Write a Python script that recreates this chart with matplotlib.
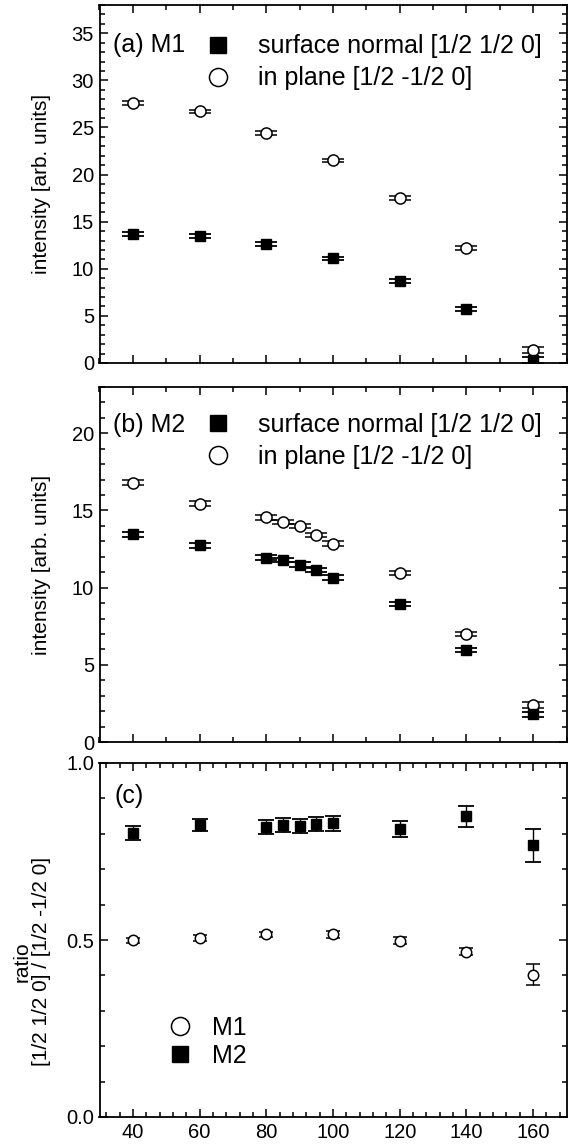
import numpy as np
import matplotlib
matplotlib.use('Agg')
import matplotlib.pyplot as plt
from matplotlib.ticker import MultipleLocator
from matplotlib.lines import Line2D

plt.rcParams['font.family'] = ['Liberation Sans', 'DejaVu Sans']

# (a) M1
x_m1 = [40, 60, 80, 100, 120, 140, 160]
m1_normal = [13.7, 13.5, 12.6, 11.1, 8.7, 5.7, 0.35]
m1_normal_err = [0.2, 0.2, 0.2, 0.2, 0.2, 0.2, 0.3]
m1_plane = [27.6, 26.7, 24.4, 21.5, 17.5, 12.2, 1.4]
m1_plane_err = [0.2, 0.2, 0.2, 0.2, 0.2, 0.2, 0.3]

# (b) M2
x_m2 = [40, 60, 80, 85, 90, 95, 100, 120, 140, 160]
m2_normal = [13.45, 12.75, 11.95, 11.8, 11.5, 11.15, 10.65, 8.95, 5.95, 1.8]
m2_normal_err = [0.15, 0.15, 0.15, 0.15, 0.15, 0.15, 0.15, 0.15, 0.15, 0.15]
m2_plane = [16.8, 15.45, 14.55, 14.25, 14.0, 13.4, 12.85, 10.95, 7.0, 2.4]
m2_plane_err = [0.15, 0.15, 0.15, 0.15, 0.15, 0.15, 0.15, 0.15, 0.15, 0.2]

# (c) ratio
r_m1 = [0.499, 0.506, 0.516, 0.516, 0.498, 0.467, 0.402]
r_m1_err = [0.007, 0.008, 0.008, 0.009, 0.01, 0.01, 0.03]
r_m2 = [0.802, 0.825, 0.820, 0.824, 0.823, 0.827, 0.830, 0.814, 0.849, 0.767]
r_m2_err = [0.02, 0.018, 0.02, 0.02, 0.02, 0.02, 0.021, 0.023, 0.03, 0.047]

fig = plt.figure(figsize=(5.68, 11.48), dpi=100)
W, H = 568.0, 1148.0
left, right = 99.5 / W, 566.5 / W

def box(top, bottom):
    return [left, 1 - bottom / H, right - left, (bottom - top) / H]

ax_a = fig.add_axes(box(5, 363))
ax_b = fig.add_axes(box(387, 742))
ax_c = fig.add_axes(box(763, 1117))

def style(ax, xminor, ymaj, ymin):
    ax.set_xlim(30, 170)
    ax.xaxis.set_major_locator(MultipleLocator(20))
    ax.xaxis.set_minor_locator(MultipleLocator(xminor))
    ax.yaxis.set_major_locator(MultipleLocator(ymaj))
    ax.yaxis.set_minor_locator(MultipleLocator(ymin))
    ax.tick_params(which='both', direction='in', top=True, right=True,
                   labelsize=14.5, width=1.1, pad=4)
    ax.tick_params(which='major', length=6)
    ax.tick_params(which='minor', length=3.5)
    for s in ax.spines.values():
        s.set_linewidth(1.3)

ekw = dict(color='black', ecolor='black', linestyle='none', elinewidth=1,
           capthick=1.3)

# panel a
ax_a.errorbar(x_m1, m1_plane, yerr=m1_plane_err, fmt='o', ms=8, mfc='white',
              mec='black', mew=1.1, capsize=8, **ekw)
ax_a.errorbar(x_m1, m1_normal, yerr=m1_normal_err, fmt='s', ms=7.5,
              mfc='black', mec='black', capsize=8, **ekw)
style(ax_a, 10, 5, 1)
ax_a.set_ylim(0, 38)
ax_a.tick_params(labelbottom=False)
ax_a.set_ylabel('intensity [arb. units]', fontsize=15)
ax_a.yaxis.set_label_coords(-0.103, 0.5)
ax_a.text(0.029, 0.889, '(a) M1', transform=ax_a.transAxes, fontsize=18,
          va='center', ha='left')

h_sq = Line2D([], [], ls='none', marker='s', ms=11, mfc='black', mec='black')
h_ci = Line2D([], [], ls='none', marker='o', ms=13, mfc='white', mec='black', mew=1.1)
leg_kw = dict(frameon=False, fontsize=18, handlelength=1.0, handletextpad=1.1,
              borderpad=0, borderaxespad=0, labelspacing=0.32, loc='upper left')
ax_a.legend([h_sq, h_ci], ['surface normal [1/2 1/2 0]', 'in plane [1/2 -1/2 0]'],
            bbox_to_anchor=(0.227, 0.918), **leg_kw)

# panel b
ax_b.errorbar(x_m2, m2_plane, yerr=m2_plane_err, fmt='o', ms=8, mfc='white',
              mec='black', mew=1.1, capsize=8, **ekw)
ax_b.errorbar(x_m2, m2_normal, yerr=m2_normal_err, fmt='s', ms=7.5,
              mfc='black', mec='black', capsize=8, **ekw)
style(ax_b, 10, 5, 1)
ax_b.set_ylim(0, 23)
ax_b.tick_params(labelbottom=False)
ax_b.set_ylabel('intensity [arb. units]', fontsize=15)
ax_b.yaxis.set_label_coords(-0.103, 0.5)
ax_b.text(0.029, 0.894, '(b) M2', transform=ax_b.transAxes, fontsize=18,
          va='center', ha='left')
ax_b.legend([h_sq, h_ci], ['surface normal [1/2 1/2 0]', 'in plane [1/2 -1/2 0]'],
            bbox_to_anchor=(0.227, 0.928), **leg_kw)

# panel c
ax_c.errorbar(x_m1, r_m1, yerr=r_m1_err, fmt='o', ms=7.5, mfc='white',
              mec='black', mew=1.1, capsize=5, **ekw)
ax_c.errorbar(x_m2, r_m2, yerr=r_m2_err, fmt='s', ms=7.5, mfc='black',
              mec='black', capsize=6, **ekw)
style(ax_c, 4, 0.5, 0.1)
ax_c.set_ylim(0, 1.0)
ax_c.set_yticks([0.0, 0.5, 1.0])
ax_c.set_yticklabels(['0.0', '0.5', '1.0'])
ax_c.set_ylabel('ratio\n[1/2 1/2 0] / [1/2 -1/2 0]', fontsize=15, linespacing=1.05)
ax_c.yaxis.set_label_coords(-0.103, 0.44)
ax_c.text(0.033, 0.907, '(c)', transform=ax_c.transAxes, fontsize=18,
          va='center', ha='left')
ax_c.legend([h_ci, h_sq], ['M1', 'M2'], bbox_to_anchor=(0.145, 0.285),
            **dict(leg_kw, handletextpad=0.8, labelspacing=0.15))

fig.savefig('out.png', dpi=100)
